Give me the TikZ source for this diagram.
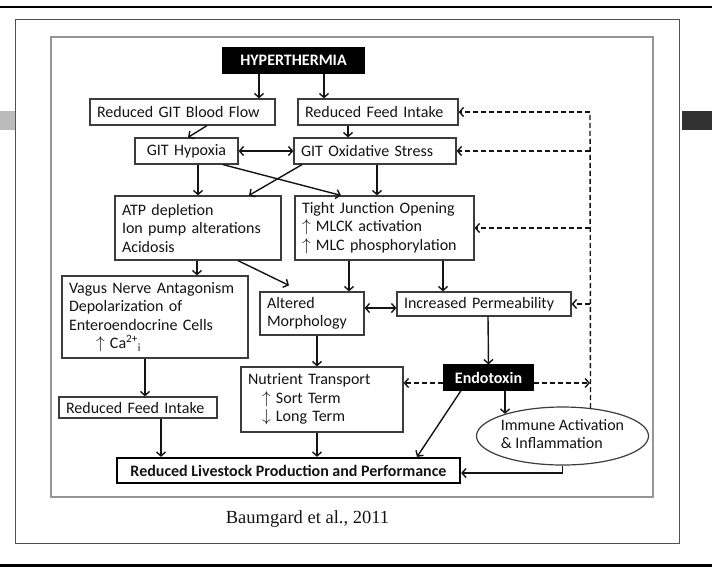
\documentclass[tikz,border=0pt]{standalone}
\usepackage{fontspec}
\setmainfont{Carlito}
\newfontfamily\capfont{Liberation Serif}
\usepackage{tikz}
\usetikzlibrary{arrows.meta, shapes.geometric}
\definecolor{framedark}{RGB}{80,80,80}
\definecolor{framelight}{RGB}{150,150,150}
\definecolor{boxline}{RGB}{60,60,60}
\definecolor{barlight}{RGB}{187,187,187}
\definecolor{bardark}{RGB}{50,50,50}
\definecolor{inkdark}{RGB}{20,20,20}
\newcommand{\boxfont}{\fontsize{16}{18.5}\selectfont}
\newcommand{\up}{$\uparrow$}
\newcommand{\dn}{$\downarrow$}
\tikzset{
  pbox/.style={draw=boxline, line width=1.2pt, fill=white, text=inkdark, font=\boxfont, align=left, inner xsep=7pt, inner ysep=0pt},
  blackbox/.style={pbox, fill=black, draw=black, text=white, font=\boxfont\bfseries, align=center, inner xsep=0pt},
  oval/.style={pbox, ellipse, inner sep=0pt},
  arr/.style={->, line width=1.4pt, draw=inkdark},
  darr/.style={arr, dash pattern=on 5pt off 3pt},
  dline/.style={line width=1.4pt, draw=inkdark, dash pattern=on 5pt off 3pt},
}

\begin{document}
\begin{tikzpicture}[x=1pt, y=-1pt, >={Straight Barb[length=4pt, width=9pt]}]
  \useasboundingbox (0,0) rectangle (712,566);
  % slide frame
  \fill[barlight] (0,111) rectangle (15,130);
  \fill[bardark] (682,111) rectangle (712,130);
  \draw[line width=2.5pt] (0,7) -- (712,7);
  \draw[line width=2.5pt] (0,565.5) -- (712,565.5);
  \draw[framedark, line width=1pt] (15,19) rectangle (679,543);
  \draw[framelight, line width=1.2pt] (51,37) rectangle (653,497);

  % nodes
  \node[blackbox, minimum width=141pt, minimum height=25pt] (hyper) at (293.5,60.5) {HYPERTHERMIA};
  \node[pbox, text width=171pt, minimum height=26pt] (rgbf) at (182.5,112) {Reduced GIT Blood Flow};
  \node[pbox, text width=146pt, minimum height=26pt] (rfi1) at (378,112) {Reduced Feed Intake};
  \node[pbox, text width=89pt, minimum height=26pt, align=center] (hypox) at (186.5,151) {GIT Hypoxia};
  \node[pbox, text width=148pt, minimum height=26pt] (oxid) at (375,151) {GIT Oxidative Stress};
  \node[pbox, text width=152pt, minimum height=64pt] (atp) at (198,228) {ATP depletion\\Ion pump alterations\\Acidosis};
  \node[pbox, text width=165pt, minimum height=64pt] (tj) at (384.5,228) {Tight Junction Opening\\\up{} MLCK activation\\\up{} MLC phosphorylation};
  \node[pbox, text width=172pt, minimum height=82pt] (vagus) at (155,317) {Vagus Nerve Antagonism\\Depolarization of\\Enteroendocrine Cells\\\hspace*{27pt}\up{} Ca\textsuperscript{2+}\textsubscript{i}};
  \node[pbox, text width=90pt, minimum height=43pt] (altered) at (312,313.5) {Altered\\Morphology};
  \node[pbox, text width=160pt, minimum height=24pt] (incperm) at (484,304) {Increased Permeability};
  \node[blackbox, minimum width=89pt, minimum height=25pt] (endo) at (488.5,377.5) {Endotoxin};
  \node[pbox, text width=148pt, minimum height=65pt] (nutr) at (322,399.5) {Nutrient Transport\\\hspace*{14pt}\up{} Sort Term\\\hspace*{14pt}\dn{} Long Term};
  \node[pbox, text width=144pt, minimum height=21pt] (rfi2) at (138,407.5) {Reduced Feed Intake};
  \node[oval, minimum width=172pt, minimum height=58pt] (immune) at (562.5,436) {\makebox[0pt]{\begin{tabular}{@{}l@{}}Immune Activation\\\& Inflammation\end{tabular}}};
  \node[pbox, draw=black, line width=2.2pt, minimum width=343pt, minimum height=25pt, inner xsep=0pt, align=center, font=\boxfont\bfseries] (stock) at (288.5,470.5) {Reduced Livestock Production and Performance};
  \node[font=\capfont\fontsize{18.5}{20}\selectfont, text=inkdark] (cite) at (307.5,519) {Baumgard et al., 2011};

  \coordinate (fbtop) at (590,112);
  \coordinate (fbendo) at (590,383);
  \coordinate (e1) at ([xshift=16.5pt]endo.south);

  % solid arrows
  \draw[arr] ([xshift=-34.5pt]hyper.south) -- ([xshift=76.5pt]rgbf.north);
  \draw[arr] ([xshift=30.5pt]hyper.south) -- ([xshift=-54pt]rfi1.north);
  \draw[arr] ([xshift=24.5pt]rgbf.south) -- ([xshift=1.5pt]hypox.north);
  \draw[arr] ([xshift=-30pt]rfi1.south) -- ([xshift=-27pt]oxid.north);
  \draw[arr, <->] (hypox.east) -- (oxid.west);
  \draw[arr] ([xshift=11.5pt]hypox.south) -- (atp.north);
  \draw[arr] ([xshift=36.5pt]hypox.south) -- ([xshift=-43.5pt]tj.north);
  \draw[arr] ([xshift=-73pt]oxid.south) -- ([xshift=51pt]atp.north);
  \draw[arr] ([xshift=2pt]oxid.south) -- ([xshift=-7.5pt]tj.north);
  \draw[arr] ([xshift=-1pt]atp.south) -- ([xshift=42pt]vagus.north);
  \draw[arr] ([xshift=40pt]atp.south) -- ([xshift=-23pt,yshift=6pt]altered.north);
  \draw[arr] ([xshift=-35.5pt]tj.south) -- ([xshift=37pt]altered.north);
  \draw[arr] ([xshift=58.5pt]tj.south) -- ([xshift=-41pt]incperm.north);
  \draw[arr, <->] ([yshift=5.5pt]altered.east) -- ([yshift=-4pt]incperm.west);
  \draw[arr] ([xshift=5pt]altered.south) -- ([xshift=-5pt]nutr.north);
  \draw[arr] ([xshift=4pt]incperm.south) -- (endo.north);
  \draw[arr] ([xshift=-10pt]vagus.south) -- ([xshift=7pt]rfi2.north);
  \draw[arr] (e1) -- (e1 |- immune.159);
  \draw[arr] ([xshift=-27.5pt]endo.south) -- ([xshift=128.5pt]stock.north);
  \draw[arr] ([xshift=23pt]rfi2.south) -- ([xshift=-127.5pt]stock.north);
  \draw[arr] ([xshift=-5pt]nutr.south) -- ([xshift=28.5pt]stock.north);
  \draw[arr] (immune.south) |- ([yshift=-2.5pt]stock.east);

  % feedback (dashed)
  \draw[dline] (immune.45) -- (fbtop);
  \draw[darr] (fbtop) -- (rfi1.east);
  \draw[darr] (fbtop |- oxid.east) -- (oxid.east);
  \draw[darr] (fbtop |- tj.east) -- (tj.east);
  \draw[darr] (fbtop |- incperm.east) -- (incperm.east);
  \draw[darr] ([yshift=-5.5pt]endo.west) -- ([yshift=16.5pt]nutr.east);
  \draw[darr] ([yshift=-5.5pt]endo.east) -- (fbendo);
\end{tikzpicture}
\end{document}
